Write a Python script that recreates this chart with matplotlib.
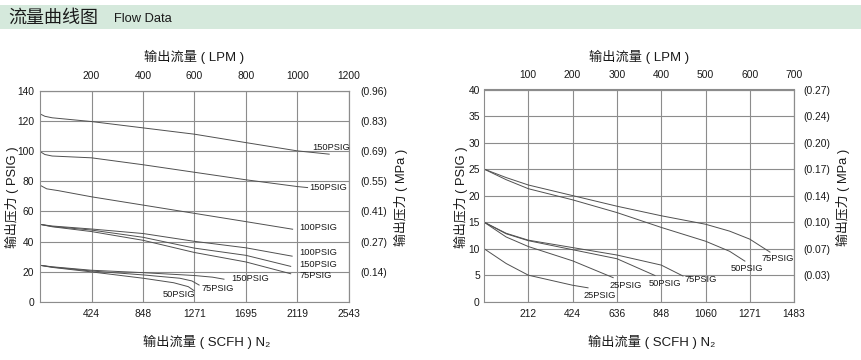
import matplotlib
matplotlib.use('Agg')
import matplotlib.pyplot as plt
from matplotlib.patches import Rectangle

plt.rcParams['font.family'] = ['Liberation Sans', 'Noto Sans CJK SC', 'DejaVu Sans']

# ---------------- data ----------------
# Left chart (x: SCFH N2, y: PSIG)
L_scfh_ticks = [424, 848, 1271, 1695, 2119, 2543]
L_lpm_ticks = [200, 400, 600, 800, 1000, 1200]
L_psig_ticks = [0, 20, 40, 60, 80, 100, 120, 140]
L_mpa_ticks = [20, 40, 60, 80, 100, 120, 140]
L_mpa_labels = ['(0.14)', '(0.27)', '(0.41)', '(0.55)', '(0.69)', '(0.83)', '(0.96)']

L_A_x = [0, 40, 100, 424, 848, 1271, 1695, 2119, 2384]
L_A_y = [124.8, 123.2, 122.2, 119.7, 115.5, 111.3, 105.7, 100.2, 98.0]
L_B_x = [0, 40, 100, 424, 848, 1271, 1695, 2119, 2206]
L_B_y = [99.8, 97.8, 96.8, 95.6, 91.0, 86.0, 81.0, 76.5, 75.8]
L_C_x = [0, 55, 150, 424, 848, 1271, 1695, 2083]
L_C_y = [77.4, 75.0, 73.8, 69.7, 64.2, 58.7, 53.2, 48.1]
L_D_x = [0, 100, 424, 848, 1271, 1695, 2079]
L_D_y = [51.4, 50.3, 48.3, 45.3, 40.1, 35.8, 30.2]
L_E_x = [0, 100, 424, 848, 1271, 1695, 2067]
L_E_y = [51.4, 50.0, 47.6, 42.8, 35.6, 30.8, 23.4]
L_F_x = [0, 100, 424, 848, 1271, 1695, 2067]
L_F_y = [51.4, 49.8, 46.6, 40.8, 32.7, 26.4, 18.5]
L_G_x = [0, 100, 424, 848, 1271, 1420, 1518]
L_G_y = [24.2, 23.2, 20.9, 19.3, 17.4, 16.3, 14.9]
L_H_x = [0, 100, 424, 848, 1150, 1250, 1313]
L_H_y = [24.2, 23.0, 20.4, 17.8, 15.6, 13.8, 10.9]
L_I_x = [0, 100, 424, 848, 1100, 1220, 1272]
L_I_y = [24.2, 22.8, 19.8, 15.6, 12.6, 10.0, 7.1]

L_labels = ['150PSIG', '150PSIG', '100PSIG', '100PSIG', '150PSIG', '75PSIG',
            '150PSIG', '75PSIG', '50PSIG']
L_label_x = [2239, 2214, 2133, 2133, 2133, 2133, 1573, 1332, 1012]
L_label_y = [102.7, 75.8, 49.3, 32.7, 24.9, 17.1, 15.6, 9.1, 4.9]

# Right chart (x: SCFH N2, y: PSIG)
R_scfh_ticks = [212, 424, 636, 848, 1060, 1271, 1483]
R_lpm_ticks = [100, 200, 300, 400, 500, 600, 700]
R_psig_ticks = [0, 5, 10, 15, 20, 25, 30, 35, 40]
R_mpa_ticks = [5, 10, 15, 20, 25, 30, 35, 40]
R_mpa_labels = ['(0.03)', '(0.07)', '(0.10)', '(0.14)', '(0.17)', '(0.20)', '(0.24)', '(0.27)']

R_75a_x = [0, 106, 212, 424, 636, 848, 1060, 1175, 1271, 1370]
R_75a_y = [25.0, 23.4, 22.0, 20.0, 18.0, 16.2, 14.6, 13.3, 11.8, 9.3]
R_50a_x = [0, 106, 212, 424, 636, 848, 1060, 1175, 1250]
R_50a_y = [25.0, 23.0, 21.3, 19.2, 16.8, 14.0, 11.4, 9.5, 7.6]
R_75b_x = [0, 106, 212, 424, 636, 848, 954]
R_75b_y = [15.0, 12.9, 11.6, 10.2, 8.8, 6.9, 4.8]
R_50b_x = [0, 106, 212, 424, 636, 820]
R_50b_y = [15.0, 12.8, 11.5, 9.8, 8.1, 4.9]
R_25b_x = [0, 106, 212, 424, 620]
R_25b_y = [15.0, 12.2, 10.4, 7.7, 4.5]
R_25a_x = [0, 106, 212, 424, 500]
R_25a_y = [10.0, 7.2, 5.0, 3.1, 2.6]

R_labels = ['75PSIG', '50PSIG', '25PSIG', '50PSIG', '75PSIG', '25PSIG']
R_label_x = [1329, 1178, 599, 786, 957, 478]
R_label_y = [8.05, 6.35, 3.0, 3.5, 4.15, 1.2]

# ---------------- figure ----------------
W, H = 862, 360
fig = plt.figure(figsize=(W / 100, H / 100), dpi=100)


def fx(px):
    return px / W


def fy(py):
    return 1 - py / H


CJK = ['Liberation Sans', 'Noto Sans CJK SC', 'DejaVu Sans']
TXT = '#1a1a1a'
GRID = '#8c8c8c'
LINE = '#505050'

fig.patches.append(Rectangle((0, fy(29)), 1, (29 - 5) / H, transform=fig.transFigure,
                             facecolor='#d5e9dc', edgecolor='none', zorder=0))
fig.text(fx(8), fy(18), '流量曲线图', fontsize=13, family=['Noto Sans CJK SC'],
         va='center', ha='left', color=TXT)
fig.text(fx(114), fy(19), 'Flow Data', fontsize=9.3, va='center', ha='left', color=TXT)


def make_chart(box, xmax, ymax, scfh_ticks, lpm_ticks, psig_ticks, mpa_ticks, mpa_labels,
               curves, labels, lx, ly, lpad, rpad):
    x0, y0, x1, y1 = box
    ax = fig.add_axes([fx(x0), fy(y1), (x1 - x0) / W, (y1 - y0) / H])
    ax.set_xlim(0, xmax)
    ax.set_ylim(0, ymax)
    ax.set_xticks(scfh_ticks)
    ax.set_xticklabels([str(t) for t in scfh_ticks])
    ax.set_yticks(psig_ticks)
    ax.set_yticklabels([str(t) for t in psig_ticks])
    ax.grid(True, color=GRID, lw=0.8)
    for s in ax.spines.values():
        s.set_color(GRID)
        s.set_linewidth(0.8)
    ax.tick_params(axis='both', length=0, labelsize=7.4, colors=TXT)
    ax.tick_params(axis='x', pad=5)
    ax.tick_params(axis='y', pad=lpad)
    ratio = xmax / lpm_ticks[-1]
    top = ax.secondary_xaxis('top', functions=(lambda v: v / ratio, lambda v: v * ratio))
    top.set_xticks(lpm_ticks)
    top.set_xticklabels([str(t) for t in lpm_ticks])
    top.tick_params(length=0, labelsize=7.4, colors=TXT, pad=7)
    top.spines['top'].set_color(GRID)
    right = ax.secondary_yaxis('right')
    right.set_yticks(mpa_ticks)
    right.set_yticklabels(mpa_labels)
    right.tick_params(length=0, labelsize=7.4, colors=TXT, pad=rpad)
    right.spines['right'].set_color(GRID)
    for cx, cy in curves:
        ax.plot(cx, cy, color=LINE, lw=0.7, solid_capstyle='butt')
    for s, x, y in zip(labels, lx, ly):
        ax.text(x, y, s, fontsize=6.7, va='center', ha='left', color=TXT)
    return ax


make_chart((40, 91, 349, 301.7), 2543, 140, L_scfh_ticks, L_lpm_ticks, L_psig_ticks,
           L_mpa_ticks, L_mpa_labels,
           [(L_A_x, L_A_y), (L_B_x, L_B_y), (L_C_x, L_C_y), (L_D_x, L_D_y), (L_E_x, L_E_y),
            (L_F_x, L_F_y), (L_G_x, L_G_y), (L_H_x, L_H_y), (L_I_x, L_I_y)],
           L_labels, L_label_x, L_label_y, 4, 8)

make_chart((484, 89.5, 794, 301.7), 1483, 40, R_scfh_ticks, R_lpm_ticks, R_psig_ticks,
           R_mpa_ticks, R_mpa_labels,
           [(R_75a_x, R_75a_y), (R_50a_x, R_50a_y), (R_75b_x, R_75b_y), (R_50b_x, R_50b_y),
            (R_25b_x, R_25b_y), (R_25a_x, R_25a_y)],
           R_labels, R_label_x, R_label_y, 3, 6.5)

# axis titles
for cx in (194.5, 639):
    fig.text(fx(cx), fy(57), '输出流量 ( LPM )', fontsize=9.5, family=CJK,
             ha='center', va='center', color=TXT)
for cx in (207, 652):
    fig.text(fx(cx), fy(342), '输出流量 ( SCFH ) N\u2082', fontsize=9.5, family=CJK,
             ha='center', va='center', color=TXT)
for cx in (11.5, 461):
    fig.text(fx(cx), fy(197), '输出压力 ( PSIG )', fontsize=9.3, family=CJK,
             ha='center', va='center', rotation=90, color=TXT)
for cx in (401, 843):
    fig.text(fx(cx), fy(197), '输出压力 ( MPa )', fontsize=9.3, family=CJK,
             ha='center', va='center', rotation=90, color=TXT)

fig.savefig('out.png', dpi=100)
